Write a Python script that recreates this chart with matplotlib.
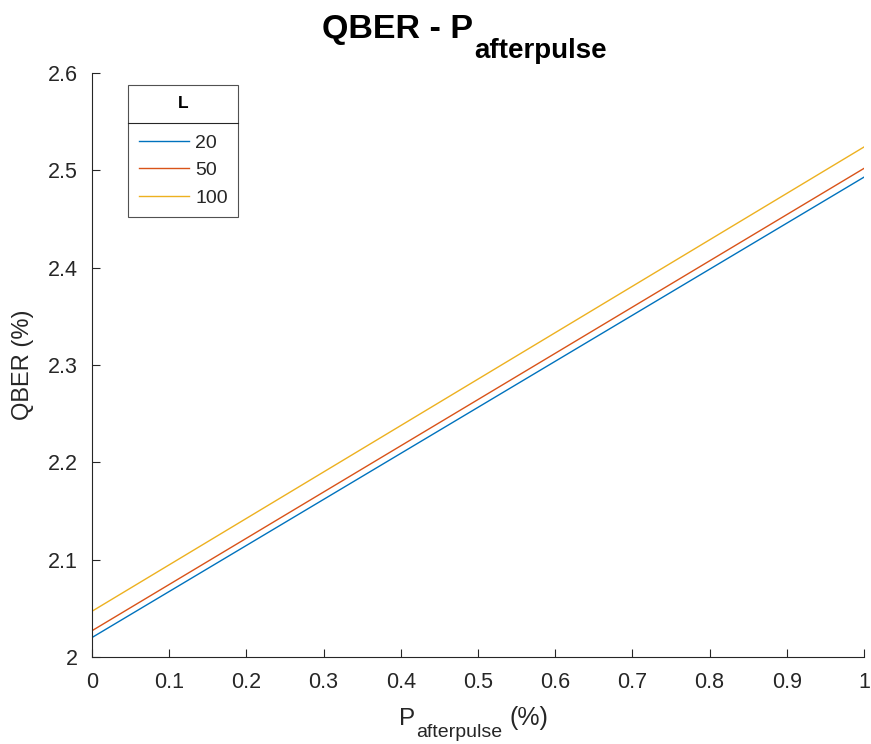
import matplotlib
matplotlib.use("Agg")
import matplotlib.pyplot as plt
from matplotlib.lines import Line2D

plt.rcParams['font.family'] = ['Liberation Sans', 'DejaVu Sans']

# Data
p_afterpulse = [0.0, 0.5, 1.0]
series_labels = ['20', '50', '100']
qber_L20 = [2.020, 2.2565, 2.493]
qber_L50 = [2.027, 2.2645, 2.502]
qber_L100 = [2.047, 2.2855, 2.524]
x_ticks = [0, 0.1, 0.2, 0.3, 0.4, 0.5, 0.6, 0.7, 0.8, 0.9, 1]
x_tick_labels = ['0', '0.1', '0.2', '0.3', '0.4', '0.5', '0.6', '0.7', '0.8', '0.9', '1']
y_ticks = [2.0, 2.1, 2.2, 2.3, 2.4, 2.5, 2.6]
y_tick_labels = ['2', '2.1', '2.2', '2.3', '2.4', '2.5', '2.6']

colors = ['#0072BD', '#D95319', '#EDB120']
axc = '#262626'

W, H = 871, 744
fig = plt.figure(figsize=(W / 100, H / 100), dpi=100)
ax = fig.add_axes([92 / W, 1 - 657 / H, (864 - 92) / W, (657 - 73) / H])

for vals, lab, c in zip([qber_L20, qber_L50, qber_L100], series_labels, colors):
    ax.plot(p_afterpulse, vals, color=c, lw=1.0, label=lab)

ax.set_xlim(0, 1)
ax.set_ylim(2.0, 2.6)
ax.set_xticks(x_ticks)
ax.set_xticklabels(x_tick_labels)
ax.set_yticks(y_ticks)
ax.set_yticklabels(y_tick_labels)
ax.tick_params(direction='in', length=6, width=0.8, colors=axc, labelsize=15.5)
ax.tick_params(axis='x', pad=11)
ax.tick_params(axis='y', pad=10)
for s in ['top', 'right']:
    ax.spines[s].set_visible(False)
for s in ['left', 'bottom']:
    ax.spines[s].set_color(axc)
    ax.spines[s].set_linewidth(0.8)

ax.set_ylabel('QBER (%)', fontsize=17, color=axc, labelpad=10)

renderer = fig.canvas.get_renderer()


def text_run(parts, x_left_px, baseline_px, color):
    """parts: list of (string, size, weight, baseline offset px downward, gap px before)."""
    x = x_left_px
    for s, size, weight, dy, gap in parts:
        x += gap
        t = fig.text(x / W, 1 - (baseline_px + dy) / H, s, fontsize=size,
                     fontweight=weight, color=color, ha='left', va='baseline')
        bb = t.get_window_extent(renderer)
        x = bb.x1


# Title: QBER - P_afterpulse
text_run([('QBER - P', 24.5, 'bold', 0, 0),
          ('afterpulse', 20, 'bold', 20, 1)], 322, 38, 'black')

# X label: P_afterpulse (%)
text_run([('P', 17.5, 'normal', 0, 0),
          ('afterpulse', 14, 'normal', 12, 1),
          ('(%)', 18, 'normal', 0, 7)], 399, 725, axc)

leg = ax.legend(loc='upper left', bbox_to_anchor=(36 / 772, 1 - 12 / 584), title='L',
                fontsize=14, title_fontproperties={'weight': 'bold', 'size': 12.5},
                frameon=True, fancybox=False, edgecolor=axc, handlelength=2.6,
                handletextpad=0.3, borderpad=0.55, labelspacing=0.5, borderaxespad=0)
leg.get_frame().set_linewidth(0.8)
leg._legend_box.sep = 17
for t in leg.get_texts():
    t.set_color(axc)
leg.get_title().set_color('black')

fig.canvas.draw()
bb = leg.get_window_extent()
tb = leg.get_title().get_window_extent()
hb = leg.get_texts()[0].get_window_extent()
ysep = ((tb.y0 + hb.y1) / 2) / fig.bbox.height
x0 = bb.x0 / fig.bbox.width
x1 = bb.x1 / fig.bbox.width
fig.add_artist(Line2D([x0, x1], [ysep, ysep], color=axc, lw=0.8, transform=fig.transFigure))

fig.savefig('out.png', dpi=100)
